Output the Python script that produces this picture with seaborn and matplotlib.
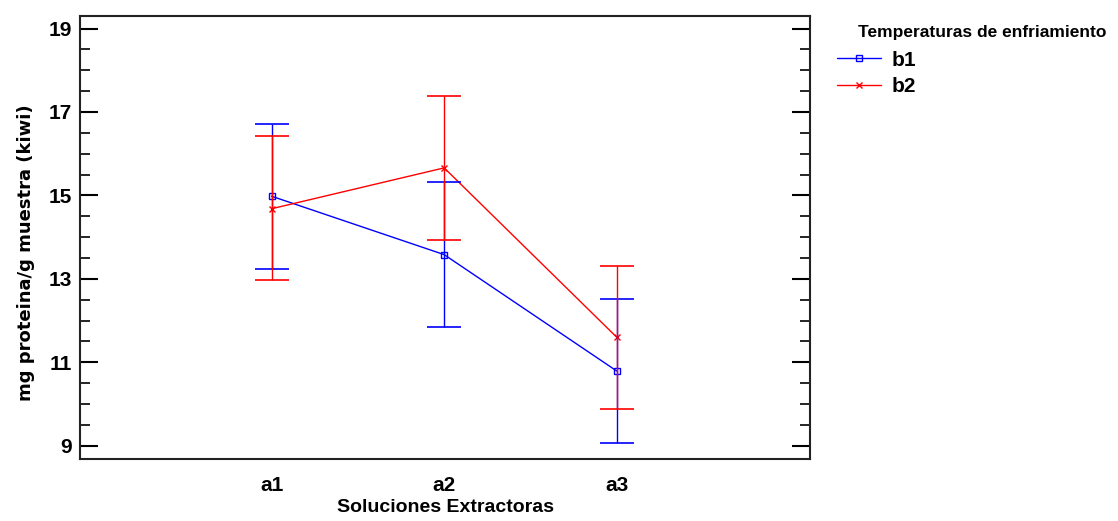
import numpy as np
import pandas as pd
import matplotlib
matplotlib.use("Agg")
import matplotlib.pyplot as plt
import seaborn as sns
from matplotlib.ticker import MultipleLocator

# data
soluciones = ["a1", "a2", "a3"]
temperaturas = ["b1", "b2"]
media_b1 = [14.98, 13.58, 10.79]
media_b2 = [14.68, 15.66, 11.60]
sup_b1 = [16.72, 15.32, 12.52]
inf_b1 = [13.24, 11.85, 9.06]
sup_b2 = [16.42, 17.39, 13.31]
inf_b2 = [12.97, 13.94, 9.88]

colores = {"b1": "#0000ff", "b2": "#ff0000"}
marcas = {"b1": "s", "b2": "x"}

df = pd.DataFrame({
    "sol": soluciones * 2,
    "pos": [1, 2, 3] * 2,
    "temp": ["b1"] * 3 + ["b2"] * 3,
    "media": media_b1 + media_b2,
    "sup": sup_b1 + sup_b2,
    "inf": inf_b1 + inf_b2,
})

sns.set_style("white")
plt.rcParams["font.family"] = ["Liberation Sans Narrow", "Liberation Sans", "DejaVu Sans"]
plt.rcParams["text.color"] = "black"
plt.rcParams["axes.labelcolor"] = "black"
plt.rcParams["xtick.color"] = "black"
plt.rcParams["ytick.color"] = "black"

fig = plt.figure(figsize=(11.18, 5.21), dpi=100)
ax = fig.add_axes([0.0716, 0.119, 0.6529, 0.851])

for t in temperaturas:
    sub = df[df["temp"] == t]
    sns.lineplot(data=sub, x="pos", y="media", color=colores[t], marker=marcas[t],
                 markersize=4.5, markerfacecolor="none", markeredgecolor=colores[t],
                 markeredgewidth=1.0, linewidth=1.0, ax=ax)

# error bars, red drawn on top
for t in temperaturas:
    sub = df[df["temp"] == t]
    err = [sub["media"] - sub["inf"], sub["sup"] - sub["media"]]
    ax.errorbar(sub["pos"], sub["media"], yerr=err, fmt="none",
                ecolor=colores[t], elinewidth=1.0, capsize=12, capthick=1.2)

ax.set_xlim(-0.11, 4.12)
ax.set_ylim(8.68, 19.31)
ax.set_xticks([1, 2, 3])
ax.set_xticklabels(soluciones, fontsize=15, fontweight="bold")
ax.tick_params(axis="x", length=0, pad=12)
ax.yaxis.set_major_locator(MultipleLocator(2))
ax.yaxis.set_minor_locator(MultipleLocator(0.5))
ax.set_yticks(np.arange(9, 20, 2))
ax.tick_params(axis="y", which="major", direction="in", length=13, width=1.5,
               left=True, right=True, labelsize=15, pad=6)
ax.tick_params(axis="y", which="minor", direction="in", length=7, width=1.2,
               left=True, right=True)
for lab in ax.get_yticklabels():
    lab.set_fontweight("bold")
for s in ax.spines.values():
    s.set_linewidth(1.5)
    s.set_color("#222222")

ax.set_xlabel("Soluciones Extractoras", fontsize=14, fontweight="bold", labelpad=3)
ax.set_ylabel("mg proteina/g muestra (kiwi)", fontsize=13, fontweight="bold",
              family="DejaVu Sans")
ax.yaxis.set_label_coords(-0.062, 0.466)

# legend: title placed separately, indented like the reference
fig.text(0.7675, 0.938, "Temperaturas de enfriamiento", fontsize=12.5,
         fontweight="bold", ha="left", va="center")
handles = [plt.Line2D([], [], color=colores[t], marker=marcas[t], markersize=4.5,
                      markerfacecolor="none", lw=1.0) for t in temperaturas]
leg = fig.legend(handles, temperaturas, loc="upper left",
                 bbox_to_anchor=(0.749, 0.903), frameon=False,
                 prop={"weight": "bold", "size": 15}, handlelength=2.1,
                 labelspacing=0.35, handletextpad=0.5, borderaxespad=0,
                 borderpad=0)

fig.savefig("out.png", dpi=100)
